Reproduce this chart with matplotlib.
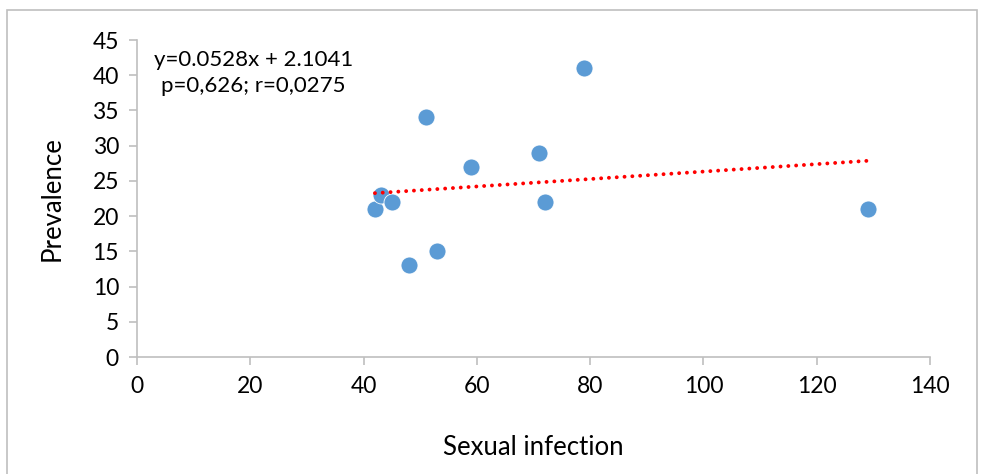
import matplotlib

matplotlib.use("Agg")
import matplotlib.pyplot as plt
import numpy as np
from matplotlib.patches import Rectangle

# sexual infection vs prevalence
infection = [42, 43, 45, 48, 51, 53, 59, 71, 72, 79, 129]
prevalence = [21, 23, 22, 13, 34, 15, 27, 29, 22, 41, 21]
eq_text = "y=0.0528x + 2.1041\np=0,626; r=0,0275"

plt.rcParams["font.family"] = ["Lato", "DejaVu Sans"]
fig = plt.figure(figsize=(9.81, 4.74), dpi=100)
ax = fig.add_axes([0.1397, 0.2468, 0.948 - 0.1397, 0.9156 - 0.2468])

# chart frame
fig.patches.append(Rectangle((7 / 981, -0.05), 970 / 981, 1.05 - 10 / 474,
                             transform=fig.transFigure, fill=False,
                             edgecolor="#BFBFBF", lw=1.2))

x = np.asarray(infection, dtype=float)
y = np.asarray(prevalence, dtype=float)
ax.scatter(x, y, s=150, color="#5B9BD5", edgecolors="white", linewidths=0.6, zorder=3)

# linear trend over the data range
slope, icpt = np.polyfit(x, y, 1)
xs = np.array([x.min(), x.max()])
ax.plot(xs, slope * xs + icpt, color="#FF0000", lw=2.8,
        linestyle=(0, (0.01, 2.0)), dash_capstyle="round", zorder=4)

ax.set_xlim(0, 140)
ax.set_ylim(0, 45)
ax.set_xticks(range(0, 141, 20))
ax.set_yticks(range(0, 46, 5))
for s in ("top", "right"):
    ax.spines[s].set_visible(False)
for s in ("left", "bottom"):
    ax.spines[s].set_color("#BFBFBF")
    ax.spines[s].set_linewidth(1.2)
ax.tick_params(axis="both", colors="#BFBFBF", labelcolor="black",
               labelsize=16.5, length=6, width=1.2)
ax.tick_params(axis="x", pad=8)
ax.tick_params(axis="y", pad=7)

ax.set_xlabel("Sexual infection", fontsize=18.5, labelpad=27)
ax.set_ylabel("Prevalence", fontsize=18.5, labelpad=20)

ax.text(20.5, 40.3, eq_text, fontsize=16, ha="center", va="center",
        linespacing=1.35)

fig.savefig("out.png", dpi=100)
